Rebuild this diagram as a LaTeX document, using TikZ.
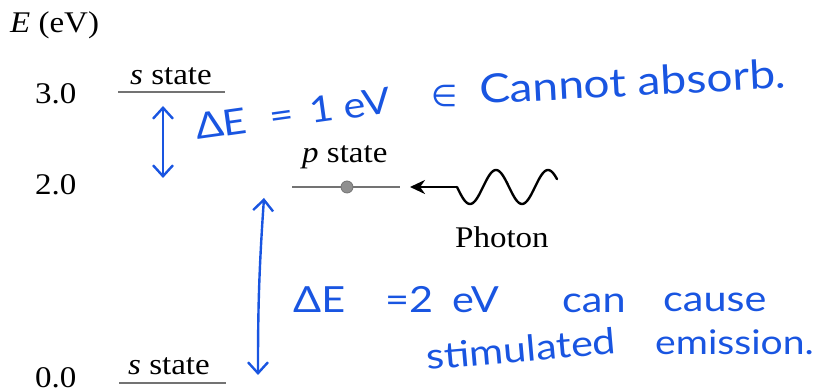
\documentclass[tikz,border=0pt]{standalone}
\usepackage{fontspec}
\setmainfont[FakeStretch=1.1]{Liberation Serif}
\newfontfamily\handfont[FakeStretch=1.15]{Lato}
\newfontfamily\symbfont{DejaVu Sans}
\usetikzlibrary{arrows.meta}
\definecolor{ink}{RGB}{25,85,225}
\definecolor{levelgray}{RGB}{115,115,115}
\tikzset{
  lbl/.style={inner sep=0pt, anchor=base west, font=\fontsize{30}{30}\selectfont},
  level/.style={levelgray, line width=2.8pt},
  hand/.style={inner sep=0pt, anchor=base west, text=ink, font=\handfont\fontsize{36}{36}\selectfont},
  inkarrow/.style={ink, line width=2.4pt, line cap=round, {Straight Barb[length=11pt,width=20pt,line width=2.4pt]}-{Straight Barb[length=11pt,width=20pt,line width=2.4pt]}},
}
\begin{document}
\begin{tikzpicture}[x=1pt,y=1pt]
\useasboundingbox (0,0) rectangle (825,390);
% axis label and values
\node[lbl] (axis) at (10,357) {\textit{E} (eV)};
\node[lbl] (v3) at (35,286) {3.0};
\node[lbl] (v2) at (35,195) {2.0};
\node[lbl] (v0) at (35,2) {0.0};
% levels
\node[lbl] (s3lab) at (130,305) {\textit{s} state};
\coordinate (s3a) at (118,298); \coordinate (s3b) at (225,298);
\draw[level] (s3a) -- (s3b);
\node[lbl] (s0lab) at (128,15) {\textit{s} state};
\coordinate (s0a) at (119,7); \coordinate (s0b) at (226,7);
\draw[level] (s0a) -- (s0b);
\node[lbl] (plab) at (302,227) {\textit{p} state};
\coordinate (pa) at (292,203); \coordinate (pb) at (400,203);
\draw[level] (pa) -- (pb);
\node[circle, fill=levelgray!80, draw=levelgray, line width=0.8pt, minimum size=12pt, inner sep=0pt] (pdot) at (347,203) {};
% photon
\coordinate (ptip) at (410,203);
\coordinate (wstart) at (457,203);
\draw[black, line width=2.4pt, line cap=round] plot[domain=0:100, samples=90, smooth] ({457+\x}, {203-17*sin((\x/52)*360)});
\draw[black, line width=2.6pt, -{Stealth[length=15pt,width=14pt]}] (wstart) -- (ptip);
\node[lbl] (photon) at (455,142) {Photon};
% handwritten annotations
\coordinate (a1t) at (163,284); \coordinate (a1b) at (163,212);
\draw[inkarrow] (a1t) -- (a1b);
\coordinate (a2t) at (264,192); \coordinate (a2b) at (258,15);
\draw[inkarrow] (a2t) to[bend right=2] (a2b);
\node[hand, rotate=8] (dE1) at (197,250) {ΔE\,\, = \,1 eV};
\node[inner sep=0pt, text=ink, font=\symbfont\fontsize{30}{30}\selectfont] (arr) at (445,294) {∈};
\node[hand, rotate=3, font=\handfont\fontsize{40}{40}\selectfont] (cannot) at (480,286) {Cannot absorb.};
\node[hand] (dE2) at (293,77) {ΔE};
\node[hand] (eq2) at (385,77) {=2};
\node[hand] (ev2) at (452,77) {eV};
\node[hand] (can) at (562,77) {can};
\node[hand] (cause) at (663,78) {cause};
\node[hand, rotate=5] (stim) at (427,20) {stimulated};
\node[hand, font=\handfont\fontsize{34}{34}\selectfont] (emis) at (655,35) {emission.};
\end{tikzpicture}
\end{document}
